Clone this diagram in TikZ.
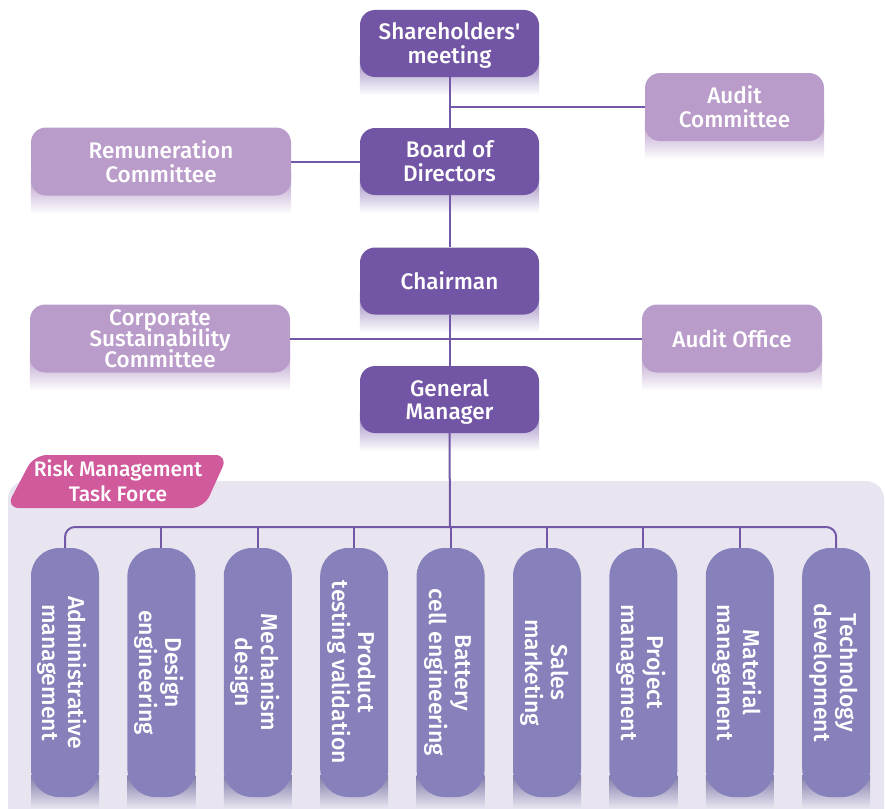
\documentclass[tikz,border=0pt]{standalone}
\usepackage{fontspec}
\setmainfont{Fira Sans}[UprightFont={* Medium}]
\usetikzlibrary{calc}

\definecolor{deep}{HTML}{7256A5}
\definecolor{lilac}{HTML}{BA9CCA}
\definecolor{dept}{HTML}{8680BB}
\definecolor{tagpink}{HTML}{D05A9B}
\definecolor{panelc}{HTML}{E8E5F1}
\definecolor{linec}{HTML}{7458A8}

\pgfdeclarelayer{panel}
\pgfdeclarelayer{shadow}
\pgfsetlayers{panel,shadow,main}

\newcommand\tightlines{\lineskiplimit=-30pt\relax}

\tikzset{
  base/.style={text=white, align=center, inner sep=0pt, text depth=0pt,
    font=\fontsize{22.5}{24}\selectfont\tightlines},
  mainbox/.style={base, fill=deep, minimum width=179pt, minimum height=67pt,
    rounded corners=15pt},
  sidebox/.style={base, fill=lilac, minimum height=68pt, rounded corners=15pt},
  deptbox/.style={base, fill=dept, rotate=-90, minimum width=249pt,
    minimum height=68pt, rounded corners=28pt,
    font=\fontsize{23}{26}\selectfont\tightlines},
  link/.style={draw=linec, line width=2pt},
}

% soft fading band under a box
\newcommand\boxshade[3]{%
  \begin{pgfonlayer}{shadow}
    \shade[top color=#2, bottom color=#3]
      ($(#1.south west)+(0,-22)$) rectangle ($(#1.south east)+(0,18)$);
  \end{pgfonlayer}}
% the same for the upright department columns (their east anchor is at the bottom)
\newcommand\deptshade[1]{%
  \begin{pgfonlayer}{shadow}
    \shade[top color=dept!85!black!90, bottom color=panelc]
      ($(#1.east)+(-34,-22)$) rectangle ($(#1.east)+(34,11)$);
  \end{pgfonlayer}}

\begin{document}
\begin{tikzpicture}[x=1pt, y=-1pt]
\useasboundingbox (0,0) rectangle (885,808);

% governance boxes
\node[mainbox] (sh)    at (449.5,43.5)  {Shareholders\textquotesingle\\meeting};
\node[mainbox] (board) at (449.5,161.5) {Board of\\Directors};
\node[mainbox] (chair) at (449.5,281)   {Chairman};
\node[mainbox] (gm)    at (449.5,399.5) {General\\Manager};

\node[sidebox, minimum width=179pt] (audc) at (734.5,107) {Audit\\Committee};
\node[sidebox, minimum width=260pt] (rem)  at (161,161.5) {Remuneration\\Committee};
\node[sidebox, minimum width=260pt, font=\fontsize{22.5}{21}\selectfont\tightlines]
  (csc)  at (160,338.5) {Corporate\\Sustainability\\Committee};
\node[sidebox, minimum width=180pt] (aoff) at (732,338.5) {Audit Office};

\boxshade{sh}{deep!75}{white}
\boxshade{board}{deep!75}{white}
\boxshade{chair}{deep!75}{white}
\boxshade{gm}{deep!75}{white}
\boxshade{audc}{lilac!90!deep}{white}
\boxshade{rem}{lilac!90!deep}{white}
\boxshade{csc}{lilac!90!deep}{white}
\boxshade{aoff}{lilac!90!deep}{white}

% risk management panel and its tag
\begin{pgfonlayer}{panel}
  \fill[panelc, rounded corners=18pt]
    (8,830) -- (8,481) -- (884,481) -- (884,830) -- cycle;
\end{pgfonlayer}
\fill[tagpink, rounded corners=13pt]
  (34,455) -- (228,455) -- (204,508) -- (6,508) -- cycle;
\node[base, font=\fontsize{21}{25}\selectfont\tightlines] (tag) at (118,481)
  {Risk Management\\Task Force};

% departments
\foreach \i/\txt in {1/Administrative\\management,
                     2/Design\\engineering,
                     3/Mechanism\\design,
                     4/Product\\testing validation,
                     5/Battery\\cell engineering,
                     6/Sales\\marketing,
                     7/Project\\management,
                     8/Material\\management,
                     9/Technology\\development}{
  \node[deptbox] (d\i) at ({65+96.4*(\i-1)},672.5) {\txt};
  \deptshade{d\i}
}

% reporting lines
\coordinate (bus) at (450,527);
\draw[link] (sh) -- (board);
\draw[link] (board) -- (chair);
\draw[link] (chair) -- (gm);
\draw[link] (audc.west) -- (audc.west -| sh.south);
\draw[link] (rem) -- (board);
\draw[link] (csc.east) -- (aoff.west);
\draw[link] (gm.south) -- (bus);
\draw[link, rounded corners=10pt]
  (d1.west) -- (d1.west |- bus) -- (d9.west |- bus) -- (d9.west);
\foreach \i in {2,...,8}{
  \draw[link] (d\i.west) -- (d\i.west |- bus);
}
\end{tikzpicture}
\end{document}
